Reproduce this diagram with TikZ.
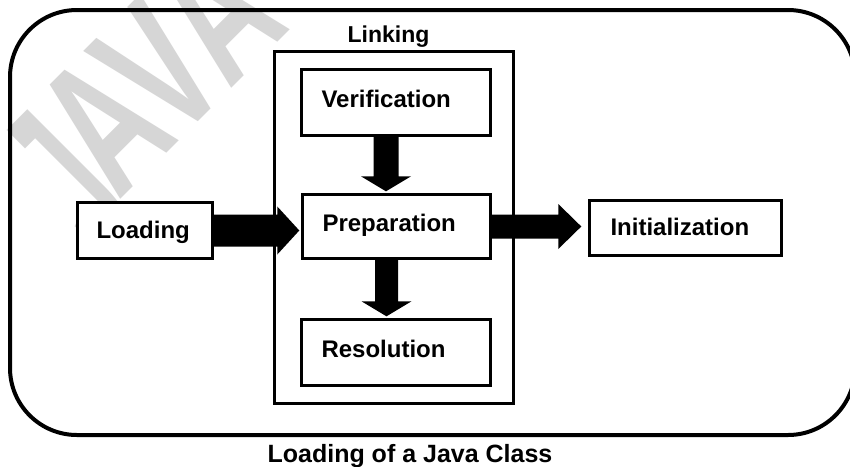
\documentclass[tikz,border=0pt]{standalone}
\usepackage{fontspec}
\setmainfont{Liberation Sans}
\usetikzlibrary{calc}
\begin{document}
\begin{tikzpicture}[x=1pt,y=-1pt,
  box/.style={draw=black, line width=3.2pt, fill=white, inner xsep=20pt, inner ysep=0pt,
    align=left, font=\bfseries\fontsize{24pt}{28pt}\selectfont, text height=15pt, text depth=6pt},
  lbl/.style={font=\bfseries\fontsize{24pt}{28pt}\selectfont, anchor=base, inner sep=0pt},
  wmark/.style={text=black!16, rotate=45, anchor=base, inner sep=0pt,
    font=\bfseries\fontsize{190pt}{190pt}\selectfont},
  blk/.style={fill=black}]
\useasboundingbox (0,0) rectangle (850,466);
\fill[white] (0,0) rectangle (850,466);
% watermark letters
\node[wmark] (wmJ) at (124.7,237.7) {\scalebox{0.55}[1.22]{J}};
\node[wmark] (wmA) at (150.5,169.5) {\scalebox{0.65}[1]{A}};
\node[wmark] (wmV) at (205,115) {\scalebox{0.65}[1]{V}};
\node[wmark] (wmB) at (260.8,59.2) {\scalebox{0.65}[1]{A}};
% outer frame
\draw[line width=4pt, rounded corners=67pt] (10,10) rectangle (855,435);
% linking group
\node[draw, line width=3.2pt, minimum width=239pt, minimum height=352pt, inner sep=0pt] (link) at (394,227.5) {};
\node[lbl, font=\bfseries\fontsize{23pt}{28pt}\selectfont] (linklbl) at (388.5,42.7) {Linking};
% boxes
\node[box, minimum width=189pt, minimum height=66pt, text width=149pt] (ver) at (396,102.5) {Verification};
\node[box, minimum width=188pt, minimum height=64pt, text width=148pt] (prep) at (396.5,226.5) {Preparation};
\node[box, minimum width=189pt, minimum height=66pt, text width=149pt] (res) at (396,352.5) {Resolution};
\node[box, minimum width=135pt, minimum height=56pt, text width=97pt, inner xsep=19pt,
  text height=17pt, text depth=2pt] (load) at (145,230.5) {Loading};
\node[box, minimum width=192pt, minimum height=55pt, text width=150pt, inner xsep=21pt,
  text height=17pt, text depth=2pt] (init) at (685.5,228) {Initialization};
% caption
\node[lbl, font=\bfseries\fontsize{25pt}{30pt}\selectfont] (cap) at (410,462) {Loading of a Java Class};
% block arrows
\coordinate (t1) at ($(load.east -| prep.west)+(-1.6,0)$);
\fill[blk] ($(load.east)+(0,-16)$) -- ($(t1)+(-22,-16)$) -- ($(t1)+(-22,-24)$) -- (t1)
  -- ($(t1)+(-22,24)$) -- ($(t1)+(-22,16)$) -- ($(load.east)+(0,16)$) -- cycle;
\coordinate (t2) at ($(prep.east -| init.west)+(-6.6,0)$);
\fill[blk] ($(prep.east)+(0,-12)$) -- ($(t2)+(-23,-12)$) -- ($(t2)+(-23,-22.5)$) -- (t2)
  -- ($(t2)+(-23,22.5)$) -- ($(t2)+(-23,12)$) -- ($(prep.east)+(0,12)$) -- cycle;
\coordinate (s3) at ($(ver.south)+(-10,0)$);
\coordinate (t3) at ($(s3 |- prep.north)+(0,-1.6)$);
\fill[blk] ($(s3)+(-12.5,0)$) -- ($(t3)+(-12.5,-15)$) -- ($(t3)+(-25,-15)$) -- (t3)
  -- ($(t3)+(25,-15)$) -- ($(t3)+(12.5,-15)$) -- ($(s3)+(12.5,0)$) -- cycle;
\coordinate (s4) at ($(prep.south)+(-10,0)$);
\coordinate (t4) at ($(s4 |- res.north)+(0,-1.6)$);
\fill[blk] ($(s4)+(-11.5,0)$) -- ($(t4)+(-11.5,-15)$) -- ($(t4)+(-25,-15)$) -- (t4)
  -- ($(t4)+(25,-15)$) -- ($(t4)+(11.5,-15)$) -- ($(s4)+(11.5,0)$) -- cycle;
\end{tikzpicture}
\end{document}
